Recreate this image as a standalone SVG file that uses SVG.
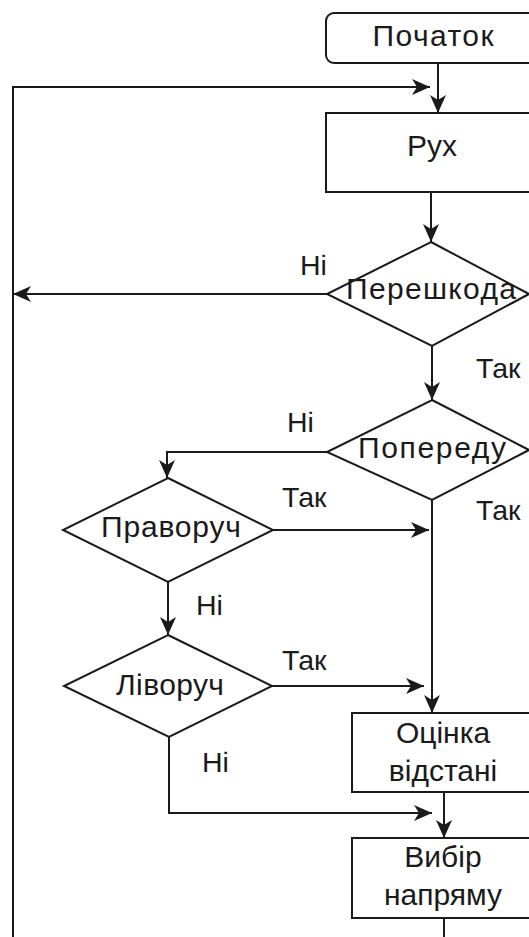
<svg xmlns="http://www.w3.org/2000/svg" width="529" height="937" viewBox="0 0 529 937">
<style>
.node{fill:#fff;stroke:#1a1a1a;stroke-width:2}
.edge{fill:none;stroke:#1a1a1a;stroke-width:2}
text{font-family:"Liberation Sans",Arial,sans-serif;font-size:30px;fill:#1a1a1a}
.lbl{font-size:28.5px}
.c{text-anchor:middle}
</style>
<defs>
<marker id="ah" markerUnits="userSpaceOnUse" markerWidth="20" markerHeight="18" refX="18" refY="8" orient="auto">
<path d="M0,0 L18,8 L0,16 L5,8 Z" fill="#1a1a1a"/>
</marker>
</defs>
<rect width="529" height="937" fill="#fff"/>
<g id="edges">
<path class="edge" d="M438,63 V113" marker-end="url(#ah)"/>
<path class="edge" d="M13,937 V87 H430" marker-end="url(#ah)"/>
<path class="edge" d="M431,192 V242" marker-end="url(#ah)"/>
<path class="edge" d="M327,294 H13" marker-end="url(#ah)"/>
<path class="edge" d="M432,346 V400" marker-end="url(#ah)"/>
<path class="edge" d="M327,452 H167 V478" marker-end="url(#ah)"/>
<path class="edge" d="M432,500 V713" marker-end="url(#ah)"/>
<path class="edge" d="M273,530 H429" marker-end="url(#ah)"/>
<path class="edge" d="M168,582 V635" marker-end="url(#ah)"/>
<path class="edge" d="M272,686 H424" marker-end="url(#ah)"/>
<path class="edge" d="M444,792 V838" marker-end="url(#ah)"/>
<path class="edge" d="M169,737 V813 H432" marker-end="url(#ah)"/>
<path class="edge" d="M444,918 V937"/>
</g>
<g id="labels">
<text class="lbl" x="300" y="275">Ні</text>
<text class="lbl" x="476" y="378">Так</text>
<text class="lbl" x="287" y="432">Ні</text>
<text class="lbl" x="476" y="520">Так</text>
<text class="lbl" x="282" y="507">Так</text>
<text class="lbl" x="196" y="615">Ні</text>
<text class="lbl" x="282" y="670">Так</text>
<text class="lbl" x="202" y="772">Ні</text>
</g>
<g id="start">
<rect class="node" x="326" y="13" width="230" height="50" rx="8"/>
<text class="c" x="433" y="46" textLength="121">Початок</text>
</g>
<g id="move">
<rect class="node" x="326" y="113" width="230" height="79"/>
<text class="c" x="432" y="156">Рух</text>
</g>
<g id="obstacle">
<polygon class="node" points="431,242 529,294 432,346 327,294"/>
<text class="c" x="431" y="299" textLength="170">Перешкода</text>
</g>
<g id="ahead">
<polygon class="node" points="432,400 529,450 432,500 327,452"/>
<text class="c" x="432" y="458" textLength="148">Попереду</text>
</g>
<g id="right">
<polygon class="node" points="168,478 273,530 168,582 63,530"/>
<text class="c" x="171" y="537" textLength="140">Праворуч</text>
</g>
<g id="left">
<polygon class="node" points="168,635 272,686 169,737 64,686"/>
<text class="c" x="170" y="695" textLength="108">Ліворуч</text>
</g>
<g id="distance">
<rect class="node" x="352" y="713" width="200" height="79"/>
<text class="c" x="443" y="743">Оцінка</text>
<text class="c" x="443" y="781">відстані</text>
</g>
<g id="direction">
<rect class="node" x="352" y="838" width="200" height="80"/>
<text class="c" x="443" y="867">Вибір</text>
<text class="c" x="443" y="905">напряму</text>
</g>
</svg>
